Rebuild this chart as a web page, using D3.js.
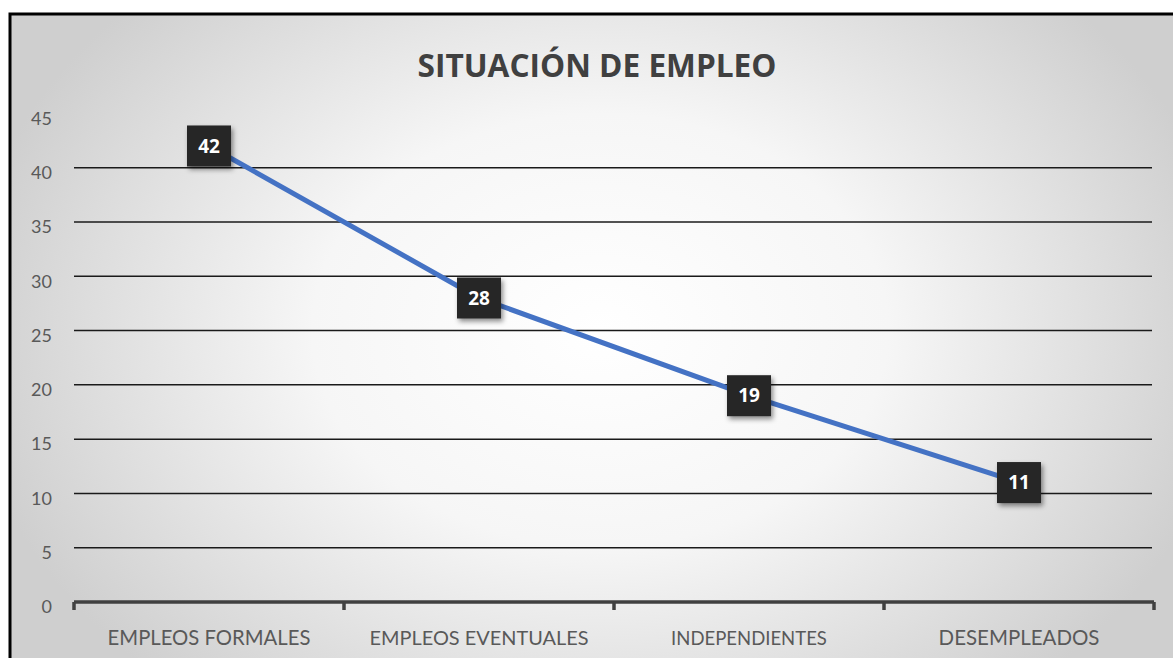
<!DOCTYPE html>
<html><head><meta charset="utf-8">
<script src="https://cdn.jsdelivr.net/npm/d3@7"></script>
<style>html,body{margin:0;padding:0;background:#fff;}svg{display:block;}</style>
</head><body>
<script>
const categories = ["EMPLEOS FORMALES", "EMPLEOS EVENTUALES", "INDEPENDIENTES", "DESEMPLEADOS"];
const values = [42, 28, 19, 11];
const yTicks = [0, 5, 10, 15, 20, 25, 30, 35, 40, 45];
const title = "SITUACIÓN DE EMPLEO";

const W = 1173, H = 658;
const svg = d3.select("body").append("svg").attr("width", W).attr("height", H);
const defs = svg.append("defs");
const rg = defs.append("radialGradient").attr("id", "bg")
  .attr("gradientUnits", "userSpaceOnUse").attr("cx", 600).attr("cy", 330).attr("r", 640)
  .attr("gradientTransform", "translate(600,330) scale(1,0.75) translate(-600,-330)");
rg.append("stop").attr("offset", "0").attr("stop-color", "#ffffff");
rg.append("stop").attr("offset", "0.45").attr("stop-color", "#f6f6f6");
rg.append("stop").attr("offset", "1").attr("stop-color", "#cfcfcf");
const sh = defs.append("filter").attr("id", "sh").attr("x", "-30%").attr("y", "-30%").attr("width", "170%").attr("height", "170%");
sh.append("feDropShadow").attr("dx", 2).attr("dy", 3).attr("stdDeviation", 2.5).attr("flood-color", "#000").attr("flood-opacity", 0.45);

svg.append("rect").attr("x", 0).attr("y", 0).attr("width", W).attr("height", H).attr("fill", "#fff");
svg.append("rect").attr("x", 10).attr("y", 14).attr("width", W + 10).attr("height", H + 10)
  .attr("fill", "url(#bg)").attr("stroke", "#000").attr("stroke-width", 3);

const x0 = 74, x1 = 1154, yTop = 113.4, yBot = 602;
const x = d3.scaleBand().domain(categories).range([x0, x1]);
const y = d3.scaleLinear().domain([0, 45]).range([yBot, yTop]);

// gridlines
svg.append("g").selectAll("line").data(yTicks.filter(d => d > 0 && d < 45)).join("line")
  .attr("x1", x0).attr("x2", x1 - 2).attr("y1", d => y(d)).attr("y2", d => y(d))
  .attr("stroke", "#1a1a1a").attr("stroke-width", 1.5);

// y axis labels
const yAxis = d3.axisLeft(y).tickValues(yTicks).tickSize(0).tickPadding(0);
const gy = svg.append("g").attr("transform", "translate(52,5)").call(yAxis);
gy.select(".domain").remove();
gy.selectAll("text").attr("font-family", "Lato, 'Open Sans', sans-serif").attr("font-size", 18)
  .attr("fill", "#595959").attr("dy", "0.32em");

// x axis
const xAxis = d3.axisBottom(x).tickSize(0).tickPadding(0);
const gx = svg.append("g").attr("transform", `translate(0,${yBot})`).call(xAxis);
gx.select(".domain").attr("stroke", "#404040").attr("stroke-width", 3.5).attr("d", `M${x0},0H${x1}`);
gx.selectAll(".tick text").attr("font-family", "Lato, 'Open Sans', sans-serif").attr("font-size", 18)
  .attr("fill", "#595959").attr("y", 43).attr("dy", 0);
// boundary ticks
const bounds = categories.map(c => x(c)).concat([x1]);
gx.append("g").selectAll("line").data(bounds).join("line")
  .attr("x1", d => d).attr("x2", d => d).attr("y1", 0).attr("y2", 8)
  .attr("stroke", "#404040").attr("stroke-width", 3.5);

// line
const line = d3.line().x((d, i) => x(categories[i]) + x.bandwidth() / 2).y(d => y(d));
svg.append("path").datum(values).attr("d", line).attr("fill", "none")
  .attr("stroke", "#4472C4").attr("stroke-width", 5).attr("stroke-linejoin", "round");

// data labels
const lg = svg.append("g").selectAll("g").data(values).join("g")
  .attr("transform", (d, i) => `translate(${x(categories[i]) + x.bandwidth() / 2},${y(d)})`);
lg.append("rect").attr("x", -22).attr("y", -20.5).attr("width", 44).attr("height", 41)
  .attr("fill", "#262626").attr("filter", "url(#sh)");
lg.append("text").text(d => d).attr("text-anchor", "middle").attr("dy", "0.35em")
  .attr("font-family", "'Open Sans', sans-serif").attr("font-weight", "bold").attr("font-size", 19)
  .attr("fill", "#fff");

// title
const t = svg.append("text").text(title).attr("x", 597).attr("y", 77).attr("text-anchor", "middle")
  .attr("font-family", "'Open Sans', sans-serif").attr("font-weight", "bold").attr("font-size", 30)
  .attr("fill", "#404040");
const tw = t.node().getComputedTextLength();
t.attr("font-size", 30 * 359 / tw);

// fit category labels width
const targetW = [203, 219, 156, 161];
gx.selectAll(".tick text").each(function(d, i) {
  const w = this.getComputedTextLength();
  d3.select(this).attr("font-size", 18 * targetW[i] / w);
});
</script>
</body></html>
